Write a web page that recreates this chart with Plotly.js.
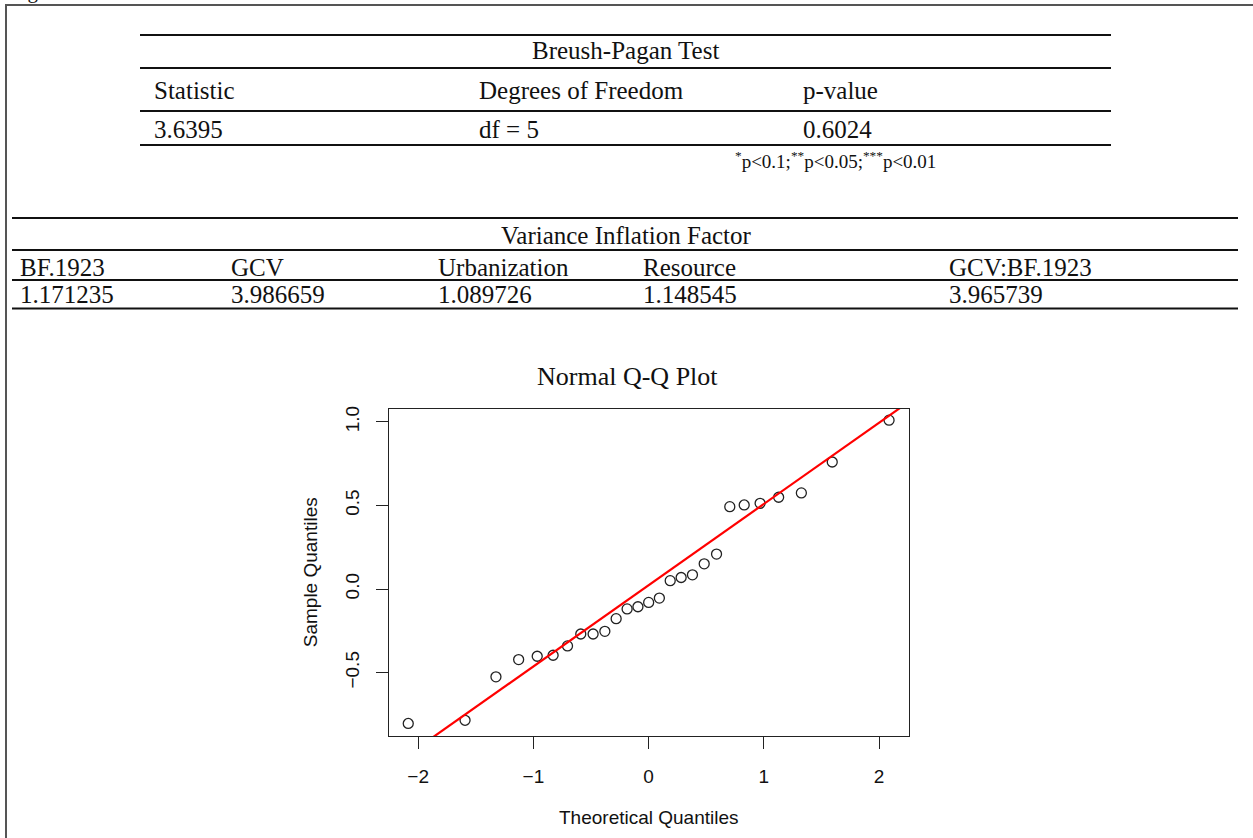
<!DOCTYPE html>
<html>
<head>
<meta charset="utf-8">
<script src="https://cdn.plot.ly/plotly-3.0.1.min.js"></script>
<style>
  html, body { margin: 0; padding: 0; background: #fff; }
  #chart { width: 1253px; height: 838px; }
</style>
</head>
<body>
<div id="chart"></div>
<script>
// ---------------- data ----------------
const pageCaption = 'Figure';
const bpTitle = 'Breush-Pagan Test';
const bpHeaders = ['Statistic', 'Degrees of Freedom', 'p-value'];
const bpValues = ['3.6395', 'df = 5', '0.6024'];
const bpNote = '<sup>*</sup>p&lt;0.1;<sup>**</sup>p&lt;0.05;<sup>***</sup>p&lt;0.01';

const vifTitle = 'Variance Inflation Factor';
const vifNames = ['BF.1923', 'GCV', 'Urbanization', 'Resource', 'GCV:BF.1923'];
const vifValues = ['1.171235', '3.986659', '1.089726', '1.148545', '3.965739'];

const qqTitle = 'Normal Q-Q Plot';
const qqXTitle = 'Theoretical Quantiles';
const qqYTitle = 'Sample Quantiles';
const theoretical = [-2.086, -1.593, -1.325, -1.128, -0.967, -0.829, -0.704, -0.589, -0.482,
  -0.380, -0.282, -0.187, -0.093, 0.000, 0.093, 0.187, 0.282, 0.380, 0.482, 0.589, 0.704,
  0.829, 0.967, 1.128, 1.325, 1.593, 2.086];
const sample = [-0.804, -0.785, -0.525, -0.422, -0.402, -0.396, -0.340, -0.269, -0.269,
  -0.253, -0.177, -0.119, -0.106, -0.080, -0.054, 0.050, 0.069, 0.085, 0.151, 0.209, 0.493,
  0.503, 0.513, 0.549, 0.575, 0.760, 1.010];
const xTicks = [-2, -1, 0, 1, 2];
const yTicks = [-0.5, 0, 0.5, 1.0];

// ---------------- layout helpers ----------------
const W = 1253, H = 838;
const PX = x => x / W;
const PY = y => 1 - y / H;
const serif = 'Liberation Serif, Times New Roman, serif';
const sans = 'Liberation Sans, Arial, Helvetica, sans-serif';

// qqline through the quartiles (as R does)
function quantile7(arr, p) {
  const s = arr.slice().sort((a, b) => a - b);
  const h = (s.length - 1) * p;
  const lo = Math.floor(h);
  return s[lo] + (h - lo) * (s[Math.min(lo + 1, s.length - 1)] - s[lo]);
}
const q1 = quantile7(sample, 0.25), q3 = quantile7(sample, 0.75);
const zq = 0.6744897501960817;
const slope = (q3 - q1) / (2 * zq);
const intercept = q1 + slope * zq;

const xRange = [-2.253, 2.259];
const yRange = [-0.879, 1.080];
const lineX = [xRange[0] - 0.5, xRange[1] + 0.5];
const lineY = lineX.map(x => intercept + slope * x);

// plot box in pixels
const box = { l: 389, r: 909, t: 408.5, b: 736 };

const shapes = [];
const annotations = [];
function hline(y, x0, x1, w, c) {
  shapes.push({ type: 'line', xref: 'paper', yref: 'paper', x0: PX(x0), x1: PX(x1), y0: PY(y), y1: PY(y),
    line: { color: c || '#111', width: w || 2 } });
}
function vline(x, y0, y1, w, c) {
  shapes.push({ type: 'line', xref: 'paper', yref: 'paper', x0: PX(x), x1: PX(x), y0: PY(y0), y1: PY(y1),
    line: { color: c || '#111', width: w || 2 } });
}
function text(t, x, y, anchor, size, font, angle) {
  annotations.push({ text: t, xref: 'paper', yref: 'paper', x: PX(x), y: PY(y), xanchor: anchor || 'left',
    yanchor: 'middle', showarrow: false, textangle: angle || 0,
    font: { family: font || serif, size: size || 25, color: '#111' } });
}

// page frame (with the clipped caption above it)
text(pageCaption, 8, -9, 'left', 21);
hline(5, 5, W + 5, 2, '#555');
vline(6, 4, H + 5, 2, '#555');

// Breusch-Pagan table
const bpLeft = 140, bpRight = 1111;
const bpCols = [152, 477, 801];
[35, 68, 111, 145].forEach(y => hline(y, bpLeft, bpRight, 2));
text(bpTitle, 625, 51, 'center');
bpHeaders.forEach((h, i) => text(h, bpCols[i], 91, 'left'));
bpValues.forEach((v, i) => text(v, bpCols[i], 129, 'left'));
text(bpNote, 733, 160, 'left', 19);

// VIF table
const vifLeft = 12, vifRight = 1238;
const vifCols = [18, 229, 436, 641, 947];
[218, 250, 280, 308.5].forEach(y => hline(y, vifLeft, vifRight, 2));
text(vifTitle, 626, 235, 'center');
vifNames.forEach((h, i) => text(h, vifCols[i], 267, 'left'));
vifValues.forEach((v, i) => text(v, vifCols[i], 294, 'left'));

// QQ plot titles
text(qqTitle, 627, 377, 'center', 26);
text(qqXTitle, (box.l + box.r) / 2, 817, 'center', 19, sans);
text(qqYTitle, 310, (box.t + box.b) / 2, 'center', 19, sans, -90);

const traces = [
  { type: 'scatter', mode: 'markers', x: theoretical, y: sample,
    marker: { symbol: 'circle-open', size: 10, color: '#222', line: { width: 1.3, color: '#222' } },
    hoverinfo: 'x+y' },
  { type: 'scatter', mode: 'lines', x: lineX, y: lineY,
    line: { color: '#ff0000', width: 2.2 }, hoverinfo: 'skip' }
];

const layout = {
  width: W, height: H, autosize: false,
  margin: { l: 0, r: 0, t: 0, b: 0, pad: 0 },
  paper_bgcolor: '#fff', plot_bgcolor: '#fff',
  showlegend: false,
  xaxis: {
    domain: [PX(box.l), PX(box.r)], range: xRange, tickvals: xTicks,
    showgrid: false, zeroline: false, showline: true, mirror: true, linecolor: '#222', linewidth: 1,
    ticks: 'outside', ticklen: 12, tickwidth: 1, tickcolor: '#222', ticklabelstandoff: 11,
    tickfont: { family: sans, size: 19, color: '#111' }
  },
  yaxis: {
    domain: [PY(box.b), PY(box.t)], range: yRange, tickvals: yTicks, tickformat: '.1f',
    showgrid: false, zeroline: false, showline: true, mirror: true, linecolor: '#222', linewidth: 1,
    ticks: 'outside', ticklen: 12, tickwidth: 1, tickcolor: '#222', tickangle: -90, ticklabelstandoff: 9,
    tickfont: { family: sans, size: 19, color: '#111' }
  },
  shapes: shapes,
  annotations: annotations
};

Plotly.newPlot('chart', traces, layout, { displayModeBar: false, staticPlot: true });
</script>
</body>
</html>
